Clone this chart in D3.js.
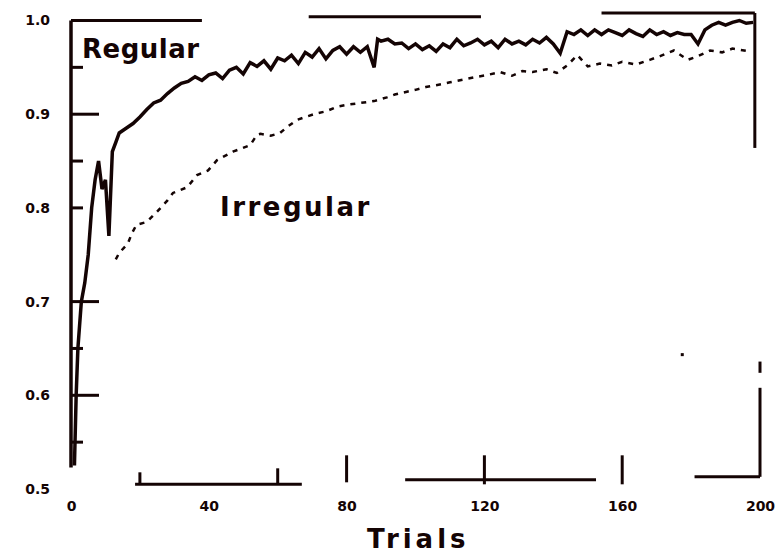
<!DOCTYPE html>
<html>
<head>
<meta charset="utf-8">
<script src="https://cdn.jsdelivr.net/npm/d3@7"></script>
<style>
  body { margin: 0; background: #fff; }
  svg { display: block; }
  .tick-label { font-family: "DejaVu Sans", sans-serif; font-weight: bold; font-size: 14px; fill: #140404; }
</style>
</head>
<body>
<div id="chart-container"></div>
<script>
/**************************************************
 * Data
 **************************************************/

// Regular condition: proportion correct by trial
const regularTrials = [1, 1.5, 2, 3, 4, 5, 6, 7, 8, 9, 10, 11, 12, 13, 14, 16, 18, 20, 22, 24, 26, 28, 30, 32, 34, 36, 38, 40,
  42, 44, 46, 48, 50, 52, 54, 56, 58, 60, 62, 64, 66, 68, 70, 72, 74, 76, 78, 80, 82, 84, 86, 88, 89, 90, 92, 94, 96, 98,
  100, 102, 104, 106, 108, 110, 112, 114, 116, 118, 120, 122, 124, 126, 128, 130, 132, 134, 136, 138, 140, 142, 144, 146,
  148, 150, 152, 154, 156, 158, 160, 162, 164, 166, 168, 170, 172, 174, 176, 178, 180, 182, 184, 186, 188, 190, 192, 194, 196, 198];
const regularValues = [0.525, 0.60, 0.65, 0.70, 0.72, 0.75, 0.80, 0.83, 0.85, 0.82, 0.83, 0.77, 0.86, 0.87, 0.88, 0.885, 0.89, 0.897, 0.905, 0.912, 0.915, 0.922, 0.928, 0.933, 0.935, 0.94, 0.936, 0.942,
  0.944, 0.938, 0.947, 0.95, 0.943, 0.955, 0.951, 0.957, 0.948, 0.96, 0.957, 0.963, 0.954, 0.966, 0.961, 0.97, 0.959, 0.968, 0.972, 0.964, 0.972, 0.966, 0.972, 0.95, 0.98, 0.978, 0.98, 0.975, 0.976, 0.97,
  0.975, 0.969, 0.973, 0.967, 0.975, 0.971, 0.98, 0.973, 0.976, 0.98, 0.974, 0.978, 0.971, 0.98, 0.975, 0.978, 0.974, 0.98, 0.976, 0.982, 0.975, 0.965, 0.988, 0.985,
  0.99, 0.984, 0.99, 0.985, 0.99, 0.987, 0.984, 0.99, 0.986, 0.983, 0.99, 0.985, 0.988, 0.984, 0.987, 0.985, 0.985, 0.975, 0.99, 0.995, 0.998, 0.995, 0.998, 1.0, 0.997, 0.998];

// Irregular condition: proportion correct by trial
const irregularTrials = [13, 14, 16.5, 17.7, 19, 22, 25, 28, 29.6, 33.7, 36.6, 39.8, 42.4, 47, 52, 54, 55, 58, 60.7, 63, 65.6, 68, 71.4, 74, 77.2, 80, 84,
  88, 91.7, 94, 97.5, 100, 103, 106, 110, 114, 118, 121, 124.5, 128, 131, 134, 138, 141, 144, 147, 150, 153.5, 157, 160, 164, 168, 171, 175, 179, 182, 185.5, 189, 192, 197];
const irregularValues = [0.745, 0.752, 0.762, 0.773, 0.782, 0.785, 0.796, 0.808, 0.816, 0.822, 0.835, 0.84, 0.851, 0.86, 0.867, 0.878, 0.879, 0.877, 0.88, 0.887, 0.894, 0.897, 0.901, 0.903, 0.908, 0.91, 0.912,
  0.914, 0.918, 0.921, 0.924, 0.926, 0.929, 0.931, 0.934, 0.937, 0.94, 0.942, 0.945, 0.941, 0.946, 0.945, 0.948, 0.944, 0.952, 0.963, 0.951, 0.954, 0.952, 0.956, 0.953, 0.958, 0.962, 0.968, 0.958, 0.962, 0.968, 0.966, 0.97, 0.967];

// Tick labels
const xTickLabels = [0, 40, 80, 120, 160, 200];
const yTickLabels = [1.0, 0.9, 0.8, 0.7, 0.6, 0.5];
const yLongTicks = [0.9, 0.7, 0.6];
const yShortTicks = [0.95, 0.85, 0.8, 0.65, 0.55];
const xTicks = [20, 60, 80, 120, 160];

// Pieces of the frame that survive in the scan: [fromTrial, toTrial, accuracy]
const topFrame = [[0, 38, 1.0], [69, 119, 1.004], [154, 198.5, 1.008]];
const bottomFrame = [[18.6, 67, 0.505], [97, 152.4, 0.51], [181, 200, 0.513]];

/**************************************************
 * Rendering
 **************************************************/

const width = 784, height = 559;
const ink = "#140404";

const svg = d3.select("#chart-container")
  .append("svg")
  .attr("width", width)
  .attr("height", height);

const xScale = d3.scaleLinear().domain([0, 200]).range([71, 760]);
const yScale = d3.scaleLinear().domain([0.5, 1.0]).range([489, 20.5]);

// Left axis line (stops short of the bottom)
svg.append("line")
  .attr("x1", xScale(0)).attr("x2", xScale(0))
  .attr("y1", yScale(1.0)).attr("y2", yScale(0.523))
  .attr("stroke", ink).attr("stroke-width", 3.5);

// Top frame pieces
svg.selectAll("line.top-frame")
  .data(topFrame)
  .enter()
  .append("line")
  .attr("class", "top-frame")
  .attr("x1", d => xScale(d[0])).attr("x2", d => xScale(d[1]))
  .attr("y1", d => yScale(d[2])).attr("y2", d => yScale(d[2]))
  .attr("stroke", ink).attr("stroke-width", 3);

// Right frame: upper and lower pieces
svg.append("line")
  .attr("x1", xScale(198.5)).attr("x2", xScale(198.5))
  .attr("y1", yScale(1.008)).attr("y2", yScale(0.864))
  .attr("stroke", ink).attr("stroke-width", 3);
svg.append("line")
  .attr("x1", xScale(200)).attr("x2", xScale(200))
  .attr("y1", yScale(0.608)).attr("y2", yScale(0.513))
  .attr("stroke", ink).attr("stroke-width", 3);
svg.append("line")
  .attr("x1", xScale(200)).attr("x2", xScale(200))
  .attr("y1", yScale(0.636)).attr("y2", yScale(0.624))
  .attr("stroke", ink).attr("stroke-width", 3);

// Bottom frame pieces
svg.selectAll("line.bottom-frame")
  .data(bottomFrame)
  .enter()
  .append("line")
  .attr("class", "bottom-frame")
  .attr("x1", d => xScale(d[0])).attr("x2", d => xScale(d[1]))
  .attr("y1", d => yScale(d[2])).attr("y2", d => yScale(d[2]))
  .attr("stroke", ink).attr("stroke-width", 3);

// Y ticks (pointing into the plot)
svg.selectAll("line.y-long")
  .data(yLongTicks)
  .enter()
  .append("line")
  .attr("class", "y-long")
  .attr("x1", xScale(0)).attr("x2", xScale(0) + 28)
  .attr("y1", d => yScale(d)).attr("y2", d => yScale(d))
  .attr("stroke", ink).attr("stroke-width", 3);

svg.selectAll("line.y-short")
  .data(yShortTicks)
  .enter()
  .append("line")
  .attr("class", "y-short")
  .attr("x1", xScale(0)).attr("x2", xScale(0) + 12)
  .attr("y1", d => yScale(d)).attr("y2", d => yScale(d))
  .attr("stroke", ink).attr("stroke-width", 3);

// X ticks (pointing up)
svg.selectAll("line.x-tick")
  .data(xTicks)
  .enter()
  .append("line")
  .attr("class", "x-tick")
  .attr("x1", d => xScale(d)).attr("x2", d => xScale(d))
  .attr("y1", d => yScale(0.505) - (d === 20 ? 12 : d === 60 ? 16 : 29))
  .attr("y2", d => d === 80 ? yScale(0.505) - 2 : yScale(0.505))
  .attr("stroke", ink).attr("stroke-width", 3);

// Tick labels through the library's axes (no lines)
const yAxis = svg.append("g")
  .attr("transform", `translate(${xScale(0) - 21},0)`)
  .call(d3.axisLeft(yScale).tickValues(yTickLabels).tickSize(0).tickPadding(0).tickFormat(d3.format(".1f")));
yAxis.select(".domain").remove();
yAxis.selectAll("text").attr("class", "tick-label").attr("fill", ink);

const xAxis = svg.append("g")
  .attr("transform", `translate(0,${yScale(0.505) + 17})`)
  .call(d3.axisBottom(xScale).tickValues(xTickLabels).tickSize(0).tickPadding(0).tickFormat(d3.format("d")));
xAxis.select(".domain").remove();
xAxis.selectAll("text").attr("class", "tick-label").attr("fill", ink);

// Lines
const regular = regularTrials.map((t, i) => ({ t: t, v: regularValues[i] }));
const irregular = irregularTrials.map((t, i) => ({ t: t, v: irregularValues[i] }));

const lineGen = d3.line()
  .x(d => xScale(d.t))
  .y(d => yScale(d.v));

svg.append("path")
  .datum(irregular)
  .attr("fill", "none")
  .attr("stroke", ink)
  .attr("stroke-width", 2.5)
  .attr("stroke-dasharray", "5,6")
  .attr("d", lineGen);

svg.append("path")
  .datum(regular)
  .attr("fill", "none")
  .attr("stroke", ink)
  .attr("stroke-width", 3.5)
  .attr("stroke-linejoin", "miter")
  .attr("d", lineGen);

// Stray speck in the scan
svg.append("rect")
  .attr("x", xScale(177)).attr("y", yScale(0.645))
  .attr("width", 3).attr("height", 3)
  .attr("fill", ink);

// Series labels
svg.append("text")
  .attr("x", 82)
  .attr("y", 58)
  .attr("font-family", "DejaVu Sans, sans-serif")
  .attr("font-weight", "bold")
  .attr("font-size", "26px")
  .attr("letter-spacing", "0.5px")
  .attr("fill", ink)
  .text("Regular");

svg.append("text")
  .attr("x", 220)
  .attr("y", 216)
  .attr("font-family", "DejaVu Sans, sans-serif")
  .attr("font-weight", "bold")
  .attr("font-size", "26px")
  .attr("letter-spacing", "2.5px")
  .attr("fill", ink)
  .text("Irregular");

// Axis title
svg.append("text")
  .attr("x", 367)
  .attr("y", 548)
  .attr("font-family", "DejaVu Sans, sans-serif")
  .attr("font-weight", "bold")
  .attr("font-size", "26px")
  .attr("letter-spacing", "4px")
  .attr("fill", ink)
  .text("Trials");
</script>
</body>
</html>
